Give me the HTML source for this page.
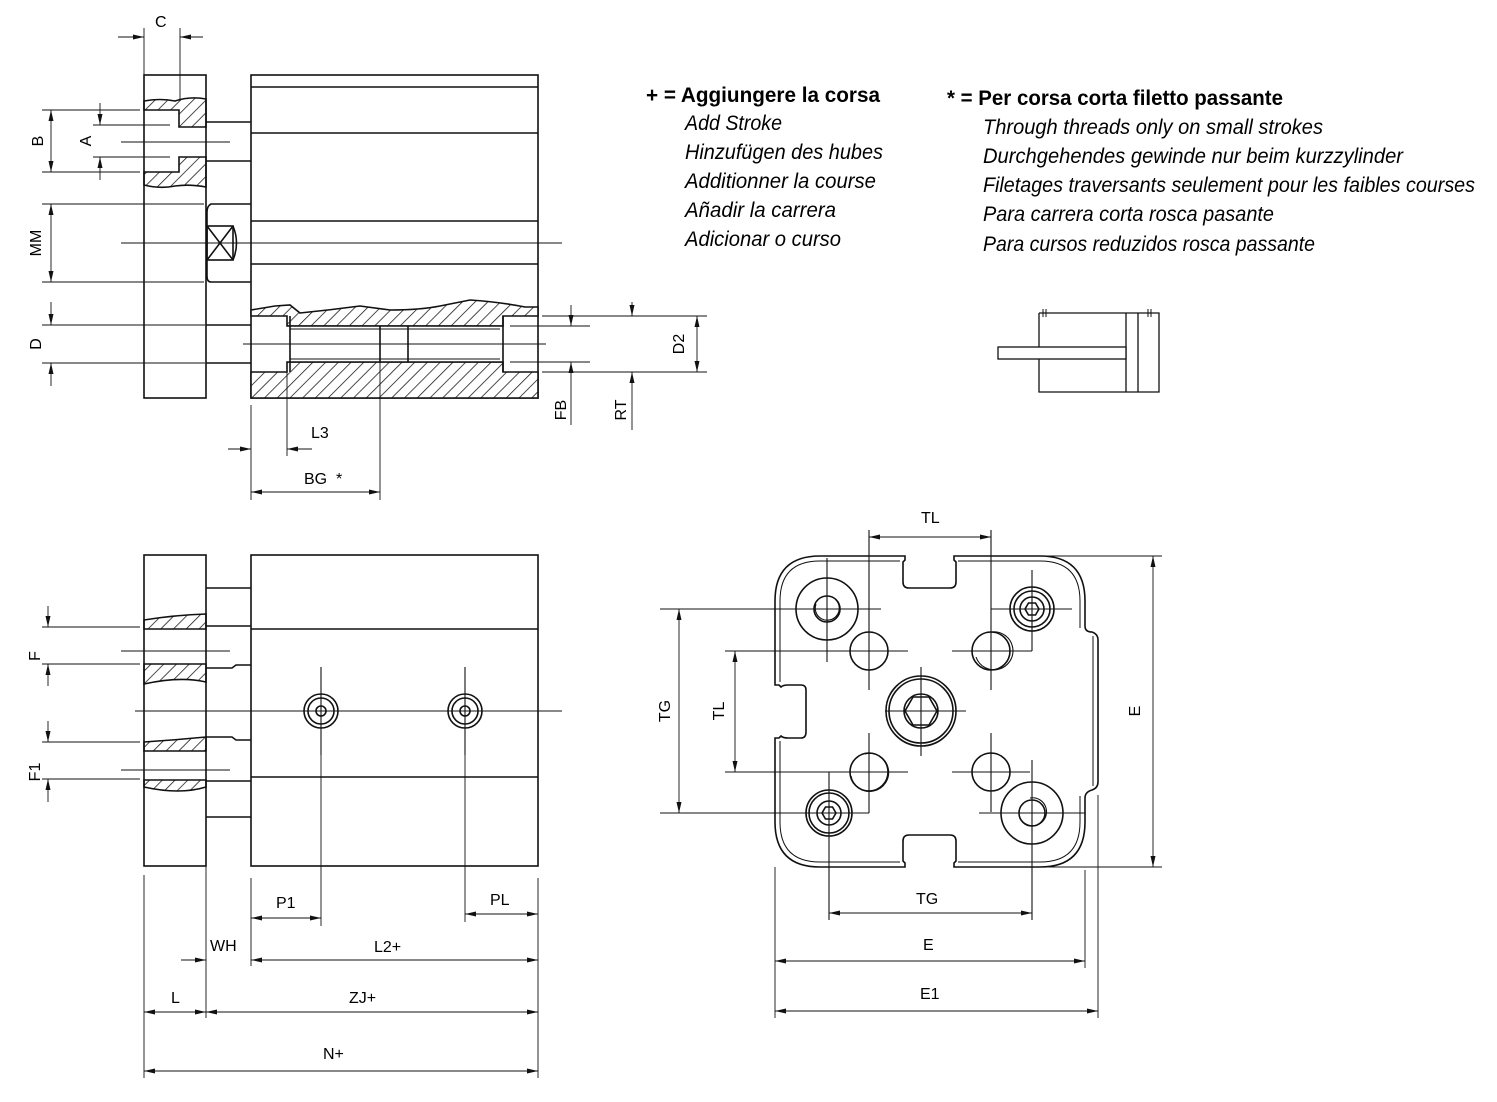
<!DOCTYPE html>
<html><head><meta charset="utf-8"><style>
html,body{margin:0;padding:0;background:#fff}
svg{display:block}
text{font-family:"Liberation Sans Narrow","Liberation Sans",sans-serif;fill:#000}
.d{font-size:16px}
.lg{font-size:21px;font-weight:bold}
.it{font-size:21px;font-style:italic}
</style></head><body>
<svg width="1497" height="1102" viewBox="0 0 1497 1102" xmlns="http://www.w3.org/2000/svg">
<defs>
<pattern id="h" width="9" height="9" patternUnits="userSpaceOnUse" patternTransform="rotate(45)">
<rect width="9" height="9" fill="#fff"/><line x1="0" y1="0" x2="0" y2="9" stroke="#111" stroke-width="1.5"/>
</pattern>
<marker id="a" markerWidth="12" markerHeight="8" refX="11" refY="4" orient="auto" markerUnits="userSpaceOnUse">
<path d="M0,1.5 L11,4 L0,6.5 Z" fill="#111"/></marker>
<marker id="b" markerWidth="12" markerHeight="8" refX="1" refY="4" orient="auto" markerUnits="userSpaceOnUse">
<path d="M12,1.5 L1,4 L12,6.5 Z" fill="#111"/></marker>
</defs>
<g fill="none" stroke="#111" stroke-width="1.6">
<!-- ===== TOP VIEW ===== -->
<path d="M144,101 Q160,98 175,101 Q190,96 206,99 L206,127 L179,127 L179,110 L144,110 Z" fill="url(#h)"/>
<path d="M144,172 L179,172 L179,157 L206,157 L206,187 Q190,184 175,186 Q160,189 144,185 Z" fill="url(#h)"/>
<rect x="144" y="75" width="62" height="323"/>
<rect x="251" y="75" width="287" height="323"/>
<line x1="251" y1="87" x2="538" y2="87"/><line x1="251" y1="133" x2="538" y2="133"/>
<line x1="251" y1="221" x2="538" y2="221"/><line x1="251" y1="264" x2="538" y2="264"/>
<line x1="206" y1="122" x2="251" y2="122"/><line x1="206" y1="161" x2="251" y2="161"/>
<path d="M251,204 L211,204 Q207,206 207,212 L207,276 Q207,282 211,282 L251,282"/>
<rect x="207" y="226" width="26" height="34"/><path d="M207,226 L233,260 M233,226 L207,260 M233,226 Q240,243 233,260"/>
<line x1="206" y1="325" x2="251" y2="325"/><line x1="206" y1="363" x2="251" y2="363"/>
<path d="M251,310 L275,306 L290,305 L300,313 Q330,310 360,306 L390,310 Q420,310 440,306 L470,300 Q500,302 525,307 L538,307 L538,316 L503,316 L503,326 L287,326 L287,316 L251,316 Z" fill="url(#h)"/>
<path d="M251,372 L287,372 L287,362 L503,362 L503,372 L538,372 L538,398 L251,398 Z" fill="url(#h)"/>
<rect x="287" y="326" width="216" height="36" fill="#fff" stroke="none"/>
<line x1="287" y1="326" x2="503" y2="326"/><line x1="287" y1="362" x2="503" y2="362"/>
<line x1="290" y1="329" x2="500" y2="329" stroke-width="0.9"/><line x1="290" y1="359" x2="500" y2="359" stroke-width="0.9"/>
<line x1="380" y1="326" x2="380" y2="362"/><line x1="408" y1="326" x2="408" y2="362"/>
<line x1="290" y1="316" x2="290" y2="372"/><line x1="503" y1="316" x2="503" y2="372"/>
<g stroke-width="1.1">
<line x1="121" y1="243" x2="562" y2="243"/>
<line x1="121" y1="142" x2="230" y2="142"/>
<line x1="243" y1="344" x2="546" y2="344"/>
</g>
<g stroke-width="0.9">
<line x1="144" y1="28" x2="144" y2="75"/><line x1="180" y1="28" x2="180" y2="101"/>
<line x1="118" y1="37" x2="144" y2="37" marker-end="url(#a)"/><line x1="203" y1="37" x2="180" y2="37" marker-end="url(#a)"/>
<line x1="42" y1="110" x2="140" y2="110"/><line x1="42" y1="172" x2="140" y2="172"/>
<line x1="51" y1="110" x2="51" y2="172" marker-start="url(#b)" marker-end="url(#a)"/>
<line x1="93" y1="125" x2="170" y2="125"/><line x1="93" y1="157" x2="170" y2="157"/>
<line x1="100" y1="103" x2="100" y2="125" marker-end="url(#a)"/><line x1="100" y1="180" x2="100" y2="157" marker-end="url(#a)"/>
<line x1="42" y1="204" x2="204" y2="204"/><line x1="42" y1="282" x2="204" y2="282"/>
<line x1="51" y1="204" x2="51" y2="282" marker-start="url(#b)" marker-end="url(#a)"/>
<line x1="42" y1="325" x2="205" y2="325"/><line x1="42" y1="363" x2="205" y2="363"/>
<line x1="51" y1="302" x2="51" y2="325" marker-end="url(#a)"/><line x1="51" y1="386" x2="51" y2="363" marker-end="url(#a)"/>
<line x1="251" y1="405" x2="251" y2="500"/><line x1="287" y1="372" x2="287" y2="456"/><line x1="380" y1="362" x2="380" y2="500"/>
<line x1="228" y1="449" x2="251" y2="449" marker-end="url(#a)"/><line x1="312" y1="449" x2="287" y2="449" marker-end="url(#a)"/>
<line x1="251" y1="492" x2="380" y2="492" marker-start="url(#b)" marker-end="url(#a)"/>
<line x1="510" y1="326" x2="590" y2="326"/><line x1="510" y1="362" x2="590" y2="362"/>
<line x1="542" y1="316" x2="642" y2="316"/><line x1="542" y1="372" x2="642" y2="372"/>
<line x1="571" y1="305" x2="571" y2="326" marker-end="url(#a)"/><line x1="571" y1="425" x2="571" y2="362" marker-end="url(#a)"/>
<line x1="632" y1="302" x2="632" y2="316" marker-end="url(#a)"/><line x1="632" y1="430" x2="632" y2="372" marker-end="url(#a)"/>
<line x1="642" y1="316" x2="707" y2="316"/><line x1="642" y1="372" x2="707" y2="372"/>
<line x1="697" y1="316" x2="697" y2="372" marker-start="url(#b)" marker-end="url(#a)"/>
</g>
<!-- ===== BOTTOM LEFT VIEW ===== -->
<path d="M144,620 Q175,615 206,614 L206,629 L144,629 Z" fill="url(#h)"/>
<path d="M144,664 L206,664 L206,682 Q180,676 144,684 Z" fill="url(#h)"/>
<path d="M144,742 Q175,740 206,737 L206,751 L144,751 Z" fill="url(#h)"/>
<path d="M144,780 L206,780 L206,787 Q180,795 144,787 Z" fill="url(#h)"/>
<rect x="144" y="555" width="62" height="311"/>
<rect x="251" y="555" width="287" height="311"/>
<line x1="251" y1="629" x2="538" y2="629"/><line x1="251" y1="777" x2="538" y2="777"/>
<line x1="206" y1="588" x2="251" y2="588"/><line x1="206" y1="817" x2="251" y2="817"/>
<line x1="206" y1="626" x2="251" y2="626"/><line x1="206" y1="781" x2="251" y2="781"/>
<path d="M206,668 L232,668 L236,665 L251,665"/><path d="M206,737 L232,737 L236,740 L251,740"/>
<circle cx="321" cy="711" r="17"/><circle cx="321" cy="711" r="13"/><circle cx="321" cy="711" r="5"/>
<circle cx="465" cy="711" r="17"/><circle cx="465" cy="711" r="13"/><circle cx="465" cy="711" r="5"/>
<g stroke-width="1.1">
<line x1="135" y1="711" x2="562" y2="711"/>
<line x1="121" y1="651" x2="230" y2="651"/><line x1="121" y1="770" x2="230" y2="770"/>
<line x1="321" y1="667" x2="321" y2="755"/><line x1="465" y1="667" x2="465" y2="755"/>
</g>
<g stroke-width="0.9">
<line x1="42" y1="627" x2="140" y2="627"/><line x1="42" y1="664" x2="140" y2="664"/>
<line x1="48" y1="606" x2="48" y2="627" marker-end="url(#a)"/><line x1="48" y1="686" x2="48" y2="664" marker-end="url(#a)"/>
<line x1="42" y1="742" x2="140" y2="742"/><line x1="42" y1="779" x2="140" y2="779"/>
<line x1="48" y1="721" x2="48" y2="742" marker-end="url(#a)"/><line x1="48" y1="802" x2="48" y2="779" marker-end="url(#a)"/>
<line x1="144" y1="875" x2="144" y2="1078"/><line x1="206" y1="866" x2="206" y2="1018"/>
<line x1="251" y1="878" x2="251" y2="966"/><line x1="321" y1="755" x2="321" y2="926"/><line x1="465" y1="755" x2="465" y2="922"/>
<line x1="538" y1="878" x2="538" y2="1078"/>
<line x1="251" y1="918" x2="321" y2="918" marker-start="url(#b)" marker-end="url(#a)"/>
<line x1="465" y1="914" x2="538" y2="914" marker-start="url(#b)" marker-end="url(#a)"/>
<line x1="181" y1="960" x2="206" y2="960" marker-end="url(#a)"/>
<line x1="251" y1="960" x2="538" y2="960" marker-start="url(#b)" marker-end="url(#a)"/>
<line x1="144" y1="1012" x2="206" y2="1012" marker-start="url(#b)" marker-end="url(#a)"/>
<line x1="206" y1="1012" x2="538" y2="1012" marker-start="url(#b)" marker-end="url(#a)"/>
<line x1="144" y1="1071" x2="538" y2="1071" marker-start="url(#b)" marker-end="url(#a)"/>
</g>
<!-- ===== END VIEW ===== -->
<path d="M820,556 L905,556 L905,560 L903,562 L903,582 Q903,588 909,588 L950,588 Q956,588 956,582 L956,562 L954,560 L954,556 L1040,556 Q1085,556 1085,601 L1085,626 Q1085,632 1092,632 Q1098,634 1098,640 L1098,782 Q1098,788 1092,790 Q1085,792 1085,798 L1085,822 Q1085,867 1040,867 L954,867 L954,863 L956,861 L956,841 Q956,835 950,835 L909,835 Q903,835 903,841 L903,861 L905,863 L905,867 L820,867 Q775,867 775,822 L775,738 L779,738 L781,736 Q783,738 788,738 L801,738 Q806,738 806,732 L806,690 Q806,685 801,685 L788,685 Q783,685 781,687 L779,685 L775,685 L775,601 Q775,556 820,556 Z"/>
<path d="M820,561 L900,561 M958,561 L1040,561 Q1080,561 1080,601 L1080,628 M1093,636 L1093,786 M1080,796 L1080,822 Q1080,862 1040,862 L958,862 M900,862 L820,862 Q780,862 780,822 L780,741 M780,682 L780,601 Q780,561 820,561" stroke-width="1"/>
<circle cx="827" cy="609" r="31"/><circle cx="827" cy="609" r="13"/><path d="M816,604 A12,12 0 1,0 836,600" stroke-width="1.1"/>
<circle cx="1032" cy="609" r="22"/><circle cx="1032" cy="609" r="18"/><circle cx="1032" cy="609" r="12"/>
<polygon points="1039,609 1035.5,615 1028.5,615 1025,609 1028.5,603 1035.5,603"/>
<circle cx="921" cy="711" r="35"/><circle cx="921" cy="711" r="32"/><circle cx="921" cy="711" r="17"/>
<polygon points="937,711 929,725 913,725 905,711 913,697 929,697"/>
<circle cx="869" cy="651" r="19"/><circle cx="991" cy="651" r="19"/><path d="M976,657 A19,19 0 1,0 991,632" stroke-width="1.1"/>
<circle cx="869" cy="772" r="19"/><path d="M865,754 A19,19 0 1,1 851,776" stroke-width="1.1"/><circle cx="991" cy="772" r="19"/>
<circle cx="829" cy="813" r="23"/><circle cx="829" cy="813" r="20"/><circle cx="829" cy="813" r="12"/>
<polygon points="836,813 832.5,819 825.5,819 822,813 825.5,807 832.5,807"/>
<circle cx="1032" cy="813" r="31"/><circle cx="1032" cy="813" r="13"/><path d="M1020,818 A14,14 0 1,0 1030,798" stroke-width="1.1"/>
<g stroke-width="1.1">
<line x1="827" y1="558" x2="827" y2="662"/><line x1="660" y1="609" x2="881" y2="609"/>
<line x1="1032" y1="570" x2="1032" y2="651"/><line x1="991" y1="609" x2="1072" y2="609"/>
<line x1="869" y1="609" x2="869" y2="690"/><line x1="831" y1="651" x2="908" y2="651"/>
<line x1="991" y1="530" x2="991" y2="690"/><line x1="952" y1="651" x2="1032" y2="651"/>
<line x1="921" y1="667" x2="921" y2="756"/><line x1="885" y1="711" x2="966" y2="711"/>
<line x1="869" y1="733" x2="869" y2="813"/><line x1="725" y1="772" x2="908" y2="772"/>
<line x1="991" y1="733" x2="991" y2="812"/><line x1="952" y1="772" x2="1030" y2="772"/>
<line x1="829" y1="772" x2="829" y2="920"/><line x1="660" y1="813" x2="869" y2="813"/>
<line x1="1032" y1="760" x2="1032" y2="920"/><line x1="979" y1="813" x2="1085" y2="813"/>
<line x1="869" y1="530" x2="869" y2="609"/><line x1="725" y1="651" x2="831" y2="651"/>
</g>
<g stroke-width="0.9">
<line x1="869" y1="537" x2="991" y2="537" marker-start="url(#b)" marker-end="url(#a)"/>
<line x1="679" y1="609" x2="679" y2="813" marker-start="url(#b)" marker-end="url(#a)"/>
<line x1="735" y1="651" x2="735" y2="772" marker-start="url(#b)" marker-end="url(#a)"/>
<line x1="1040" y1="556" x2="1162" y2="556"/><line x1="1040" y1="867" x2="1162" y2="867"/>
<line x1="1153" y1="556" x2="1153" y2="867" marker-start="url(#b)" marker-end="url(#a)"/>
<line x1="829" y1="913" x2="1032" y2="913" marker-start="url(#b)" marker-end="url(#a)"/>
<line x1="775" y1="867" x2="775" y2="1018"/><line x1="1085" y1="870" x2="1085" y2="968"/><line x1="1098" y1="795" x2="1098" y2="1018"/>
<line x1="775" y1="961" x2="1085" y2="961" marker-start="url(#b)" marker-end="url(#a)"/>
<line x1="775" y1="1011" x2="1098" y2="1011" marker-start="url(#b)" marker-end="url(#a)"/>
</g>
<g stroke-width="1.3">
<path d="M1039,313 L1039,392 L1159,392 L1159,313 L1039,313"/>
<line x1="1126" y1="313" x2="1126" y2="392"/><line x1="1138" y1="313" x2="1138" y2="392"/>
<rect x="998" y="347" width="128" height="12" fill="#fff"/>
<path d="M1043,309 L1043,317 M1046,309 L1046,317 M1148,309 L1148,317 M1151,309 L1151,317" stroke-width="1"/>
</g>
</g>
<g class="d">
<text x="155" y="27">C</text>
<text transform="translate(43,141) rotate(-90)" text-anchor="middle">B</text>
<text transform="translate(91,141) rotate(-90)" text-anchor="middle">A</text>
<text transform="translate(41,243) rotate(-90)" text-anchor="middle">MM</text>
<text transform="translate(41,344) rotate(-90)" text-anchor="middle">D</text>
<text x="311" y="438">L3</text>
<text x="304" y="484">BG&#160; *</text>
<text transform="translate(566,410) rotate(-90)" text-anchor="middle">FB</text>
<text transform="translate(626,410) rotate(-90)" text-anchor="middle">RT</text>
<text transform="translate(684,344) rotate(-90)" text-anchor="middle">D2</text>
<text transform="translate(40,656) rotate(-90)" text-anchor="middle">F</text>
<text transform="translate(40,772) rotate(-90)" text-anchor="middle">F1</text>
<text x="276" y="908">P1</text><text x="490" y="905">PL</text>
<text x="210" y="951">WH</text><text x="374" y="952">L2+</text>
<text x="171" y="1003">L</text><text x="349" y="1003">ZJ+</text><text x="323" y="1059">N+</text>
<text x="921" y="523">TL</text>
<text transform="translate(670,711) rotate(-90)" text-anchor="middle">TG</text>
<text transform="translate(724,711) rotate(-90)" text-anchor="middle">TL</text>
<text transform="translate(1140,711) rotate(-90)" text-anchor="middle">E</text>
<text x="916" y="904">TG</text><text x="923" y="950">E</text><text x="920" y="999">E1</text>
</g>
<text class="lg" x="646" y="102" textLength="234" lengthAdjust="spacingAndGlyphs">+ = Aggiungere la corsa</text>
<text class="it" x="685" y="130" textLength="97" lengthAdjust="spacingAndGlyphs">Add Stroke</text>
<text class="it" x="685" y="159" textLength="198" lengthAdjust="spacingAndGlyphs">Hinzufügen des hubes</text>
<text class="it" x="685" y="188" textLength="191" lengthAdjust="spacingAndGlyphs">Additionner la course</text>
<text class="it" x="685" y="217" textLength="151" lengthAdjust="spacingAndGlyphs">Añadir la carrera</text>
<text class="it" x="685" y="246" textLength="156" lengthAdjust="spacingAndGlyphs">Adicionar o curso</text>
<text class="lg" x="947" y="105" textLength="336" lengthAdjust="spacingAndGlyphs">* = Per corsa corta filetto passante</text>
<text class="it" x="983" y="134" textLength="340" lengthAdjust="spacingAndGlyphs">Through threads only on small strokes</text>
<text class="it" x="983" y="163" textLength="420" lengthAdjust="spacingAndGlyphs">Durchgehendes gewinde nur beim kurzzylinder</text>
<text class="it" x="983" y="192" textLength="492" lengthAdjust="spacingAndGlyphs">Filetages traversants seulement pour les faibles courses</text>
<text class="it" x="983" y="221" textLength="291" lengthAdjust="spacingAndGlyphs">Para carrera corta rosca pasante</text>
<text class="it" x="983" y="251" textLength="332" lengthAdjust="spacingAndGlyphs">Para cursos reduzidos rosca passante</text>
</svg>
</body></html>
